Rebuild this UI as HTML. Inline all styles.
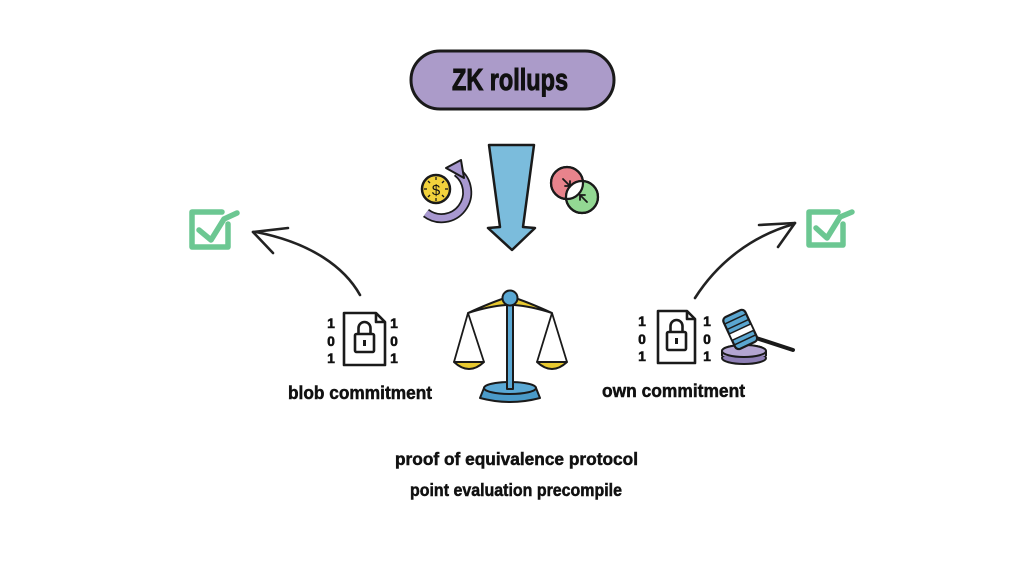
<!DOCTYPE html>
<html><head><meta charset="utf-8"><style>
html,body{margin:0;padding:0;background:#fff;}
svg{display:block;}
text{font-family:"Liberation Sans",sans-serif;font-weight:bold;fill:#111;}
.b{stroke:#111;stroke-width:0.5;}
</style></head><body>
<svg width="1024" height="576" viewBox="0 0 1024 576" xmlns="http://www.w3.org/2000/svg">
<rect width="1024" height="576" fill="#fff"/>
<!-- pill -->
<rect x="411" y="51" width="203" height="58" rx="29" fill="#ab9bc9" stroke="#1a1a1a" stroke-width="3"/>
<text class="b" x="452" y="90" font-size="31" textLength="116" lengthAdjust="spacingAndGlyphs" style="stroke-width:1">ZK rollups</text>

<!-- blue arrow -->
<polygon points="489,145 534,145 523,227 535,228 512,250 488,228 500,227" fill="#7bbcdc" stroke="#1a1a1a" stroke-width="2.5" stroke-linejoin="round"/>

<!-- coin icon -->
<path d="M426,213 A25,25 0 0 0 457,172" fill="none" stroke="#1a1a1a" stroke-width="10"/>
<path d="M426,213 A25,25 0 0 0 457,172" fill="none" stroke="#a898d0" stroke-width="6.5"/>
<polygon points="446,168 461,160 464,178" fill="#a898d0" stroke="#1a1a1a" stroke-width="2" stroke-linejoin="round"/>
<circle cx="436" cy="189" r="14" fill="#f2d23c" stroke="#1a1a1a" stroke-width="2.5"/>
<text x="436" y="195" font-size="15" text-anchor="middle" style="font-weight:normal">$</text>
<g stroke="#1a1a1a" stroke-width="1.3">
<line x1="436" y1="177" x2="436" y2="180"/><line x1="436" y1="198" x2="436" y2="201"/>
<line x1="424" y1="189" x2="427" y2="189"/><line x1="445" y1="189" x2="448" y2="189"/>
<line x1="428" y1="181" x2="430" y2="183"/><line x1="442" y1="195" x2="444" y2="197"/>
<line x1="444" y1="181" x2="442" y2="183"/><line x1="428" y1="197" x2="430" y2="195"/>
</g>

<!-- venn -->
<circle cx="567" cy="183" r="16" fill="#e8838c" stroke="#1a1a1a" stroke-width="2.2"/>
<circle cx="582" cy="197" r="16" fill="#93d893" stroke="#1a1a1a" stroke-width="2.2"/>
<clipPath id="cr"><circle cx="567" cy="183" r="16"/></clipPath>
<circle cx="582" cy="197" r="16" fill="#fff" clip-path="url(#cr)"/>
<circle cx="567" cy="183" r="16" fill="none" stroke="#1a1a1a" stroke-width="2.2"/>
<circle cx="582" cy="197" r="16" fill="none" stroke="#1a1a1a" stroke-width="2.2"/>
<g stroke="#1a1a1a" stroke-width="1.8" fill="none" stroke-linecap="round">
<path d="M563,179 L570,186 M570,181 L570,186 L565,186"/>
<path d="M587,202 L580,195 M580,200 L580,195 L585,195"/>
</g>

<!-- curve arrows -->
<g fill="none" stroke="#222" stroke-width="2.6" stroke-linecap="round">
<path d="M360,295 C345,268 312,243 256,232"/>
<path d="M253,232 L288,228"/>
<path d="M253,232 L273,253"/>
<path d="M695,298 C718,262 752,236 794,224"/>
<path d="M795,223 L759,225"/>
<path d="M795,223 L778,247"/>
</g>

<!-- checkboxes -->
<g fill="none" stroke="#6cc792" stroke-width="5.5" stroke-linecap="round" stroke-linejoin="round">
<path d="M222,212 L192,212 L192,247 L228,247 L228,224"/>
<path d="M199,230 L211,240 L224,219 L237,213"/>
<path d="M838,212 L809,212 L809,245 L843,245 L843,224"/>
<path d="M816,228 L827,238 L840,217 L852,212"/>
</g>

<!-- blob doc -->
<g fill="none" stroke="#1a1a1a" stroke-width="2.6" stroke-linejoin="round">
<path d="M344,313 L376,313 L385,322 L385,365 L344,365 Z"/>
<path d="M376,313 L376,322 L385,322"/>
<rect x="355" y="334" width="19" height="18" rx="1.5"/>
<path d="M358.5,334 L358.5,328 A6,6 0 0 1 370.5,328 L370.5,334"/>
<line x1="364.5" y1="340" x2="364.5" y2="346" stroke-width="3"/>
</g>
<g font-size="14" class="b">
<text x="331" y="328" text-anchor="middle">1</text>
<text x="331" y="346" text-anchor="middle">0</text>
<text x="331" y="363" text-anchor="middle">1</text>
<text x="394" y="328" text-anchor="middle">1</text>
<text x="394" y="346" text-anchor="middle">0</text>
<text x="394" y="363" text-anchor="middle">1</text>
</g>
<text class="b" x="288" y="399" font-size="18.5" textLength="144" lengthAdjust="spacingAndGlyphs">blob commitment</text>

<!-- own doc -->
<g fill="none" stroke="#1a1a1a" stroke-width="2.6" stroke-linejoin="round">
<path d="M658,311 L687,311 L695,319 L695,363 L658,363 Z"/>
<path d="M687,311 L687,319 L695,319"/>
<rect x="667" y="332" width="19" height="18" rx="1.5"/>
<path d="M670.5,332 L670.5,326 A6,6 0 0 1 682.5,326 L682.5,332"/>
<line x1="676.5" y1="338" x2="676.5" y2="344" stroke-width="3"/>
</g>
<g font-size="14" class="b">
<text x="642" y="326" text-anchor="middle">1</text>
<text x="642" y="344" text-anchor="middle">0</text>
<text x="642" y="361" text-anchor="middle">1</text>
<text x="707" y="326" text-anchor="middle">1</text>
<text x="707" y="344" text-anchor="middle">0</text>
<text x="707" y="361" text-anchor="middle">1</text>
</g>
<text class="b" x="602" y="397" font-size="18.5" textLength="143" lengthAdjust="spacingAndGlyphs">own commitment</text>

<!-- gavel -->
<ellipse cx="744" cy="358" rx="22" ry="6" fill="#8e7fb5" stroke="#1a1a1a" stroke-width="2"/>
<path d="M722,356 L722,351 A22,6 0 0 1 766,351 L766,356" fill="#a898c8" stroke="#1a1a1a" stroke-width="2"/>
<ellipse cx="744" cy="351" rx="22" ry="6" fill="#b3a5d2" stroke="#1a1a1a" stroke-width="2"/>
<path d="M750,336 L793,350" stroke="#1a1a1a" stroke-width="4" stroke-linecap="round"/>
<g transform="rotate(-25 740 329)">
<rect x="728" y="312" width="24" height="35" rx="4" fill="#5aa6d0" stroke="#1a1a1a" stroke-width="2.2"/>
<rect x="728" y="329" width="24" height="7" fill="#fff" stroke="#1a1a1a" stroke-width="1.5"/>
<line x1="729" y1="318" x2="751" y2="318" stroke="#1a1a1a" stroke-width="1.5"/>
<line x1="729" y1="324" x2="751" y2="324" stroke="#1a1a1a" stroke-width="1.5"/>
<line x1="729" y1="341" x2="751" y2="341" stroke="#1a1a1a" stroke-width="1.5"/>
</g>

<!-- scale -->
<g stroke="#1a1a1a" stroke-width="2" stroke-linejoin="round">
<path d="M468,313 Q490,303 505,298 L515,298 Q530,303 552,313 Q530,306 514,305 L506,305 Q490,306 468,313 Z" fill="#e8c930"/>
<path d="M484,388 L536,388 L540,398 Q510,406 480,398 Z" fill="#4a9ac8"/>
<ellipse cx="510" cy="388" rx="26" ry="6" fill="#5aa8d4"/>
<rect x="507" y="303" width="6" height="86" fill="#5aa8d4"/>
<circle cx="510" cy="298" r="7.5" fill="#5aa8d4"/>
<path d="M454,362 Q469,376 484,362 Z" fill="#e8c930"/>
<path d="M537,362 Q552,376 567,362 Z" fill="#e8c930"/>
</g>
<g stroke="#1a1a1a" stroke-width="1.8" fill="none">
<path d="M468,313 L454,362 M468,313 L484,362"/>
<path d="M552,313 L537,362 M552,313 L567,362"/>
</g>

<!-- bottom text -->
<text class="b" x="395" y="465" font-size="17.5" textLength="243" lengthAdjust="spacingAndGlyphs">proof of equivalence protocol</text>
<text class="b" x="410" y="496" font-size="17.5" textLength="212" lengthAdjust="spacingAndGlyphs">point evaluation precompile</text>
</svg>
</body></html>
